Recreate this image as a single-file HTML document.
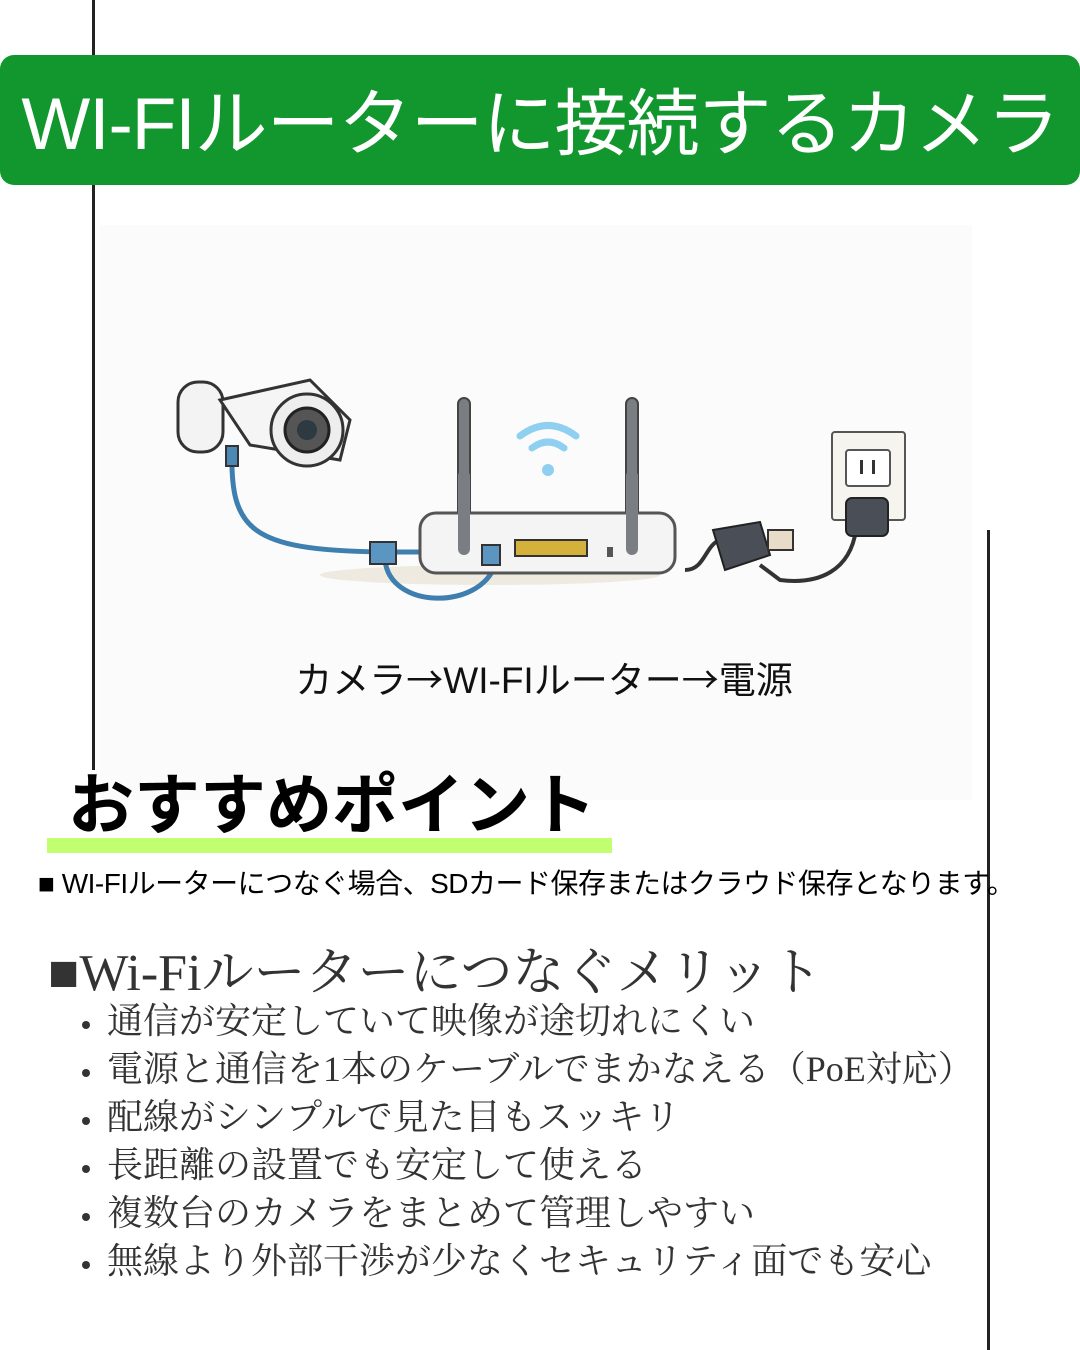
<!DOCTYPE html>
<html><head><meta charset="utf-8"><style>
body{margin:0;width:1080px;height:1350px;background:#fff;position:relative;overflow:hidden;font-family:"Liberation Sans","Noto Sans CJK JP",sans-serif}
.abs{position:absolute}
.banner{left:0;top:55px;width:1080px;height:130px;background:#12962e;border-radius:14px}
.title{left:0;top:60px;width:1080px;height:130px;line-height:130px;text-align:center;color:#fff;font-size:73px;white-space:nowrap;letter-spacing:-1px}
.serif{font-family:"Liberation Serif","Noto Serif CJK SC",serif;color:#333}
ul{margin:0;padding:0;list-style:none}
li{height:48px;line-height:48px;font-size:36px;white-space:nowrap;position:relative;letter-spacing:0px}
li::before{content:"";position:absolute;left:-25px;top:24px;width:8px;height:8px;border-radius:50%;background:#333}
</style></head><body>
<div class="abs" style="left:100px;top:225px;width:872px;height:575px;background:#fbfbfb"></div>
<div class="abs" style="left:92px;top:0;width:3px;height:770px;background:#222"></div>
<div class="abs" style="left:987px;top:530px;width:3px;height:820px;background:#222"></div>
<div class="abs banner"></div>
<div class="abs title">WI-FIルーターに接続するカメラ</div>

<svg class="abs" style="left:160px;top:370px" width="760" height="250" viewBox="0 0 760 250">
 <ellipse cx="330" cy="205" rx="170" ry="10" fill="#eeeae0"/>
 <path d="M72 80 C70 160 90 180 220 182 L260 182" stroke="#3e7fb0" stroke-width="5" fill="none"/>
 <path d="M225 190 C230 240 320 240 335 195" stroke="#3e7fb0" stroke-width="5" fill="none"/>
 <path d="M560 170 C545 175 545 200 525 200" stroke="#333" stroke-width="4" fill="none"/>
 <path d="M696 160 C690 200 660 215 620 210 L600 195" stroke="#333" stroke-width="4" fill="none"/>
 <rect x="18" y="12" width="45" height="70" rx="20" fill="#f3f3f3" stroke="#333" stroke-width="3"/>
 <path d="M60 30 L150 10 L190 50 L180 90 L90 75 Z" fill="#f5f5f5" stroke="#333" stroke-width="3"/>
 <circle cx="147" cy="60" r="36" fill="#eee" stroke="#333" stroke-width="3"/>
 <circle cx="147" cy="60" r="22" fill="#555" stroke="#222" stroke-width="3"/>
 <circle cx="147" cy="60" r="10" fill="#2d3a42"/>
 <rect x="66" y="76" width="12" height="20" fill="#4d88b5" stroke="#333" stroke-width="2"/>
 <rect x="210" y="172" width="26" height="22" fill="#5b96c2" stroke="#333" stroke-width="2"/>
 <rect x="298" y="28" width="12" height="160" rx="6" fill="#7a7d82" stroke="#444" stroke-width="2"/>
 <rect x="466" y="28" width="12" height="160" rx="6" fill="#7a7d82" stroke="#444" stroke-width="2"/>
 <rect x="260" y="143" width="255" height="60" rx="16" fill="#f4f4f4" stroke="#555" stroke-width="3"/>
 <rect x="298" y="100" width="12" height="85" rx="6" fill="#7a7d82"/>
 <rect x="466" y="100" width="12" height="85" rx="6" fill="#7a7d82"/>
 <rect x="355" y="170" width="72" height="16" fill="#d4b13a" stroke="#333" stroke-width="2"/>
 <rect x="322" y="175" width="18" height="20" fill="#5b96c2" stroke="#333" stroke-width="2"/>
 <rect x="447" y="177" width="6" height="10" fill="#555"/>
 <path d="M360 66 Q388 45 416 66" stroke="#8fd0f0" stroke-width="7" fill="none" stroke-linecap="round"/>
 <path d="M372 78 Q388 66 404 78" stroke="#8fd0f0" stroke-width="7" fill="none" stroke-linecap="round"/>
 <circle cx="388" cy="100" r="6" fill="#8fd0f0"/>
 <path d="M553 160 L600 152 L610 185 L565 200 Z" fill="#4a4f57" stroke="#222" stroke-width="2"/>
 <rect x="608" y="160" width="25" height="20" fill="#e8dcc8" stroke="#333" stroke-width="2"/>
 <rect x="672" y="62" width="73" height="88" rx="3" fill="#f5f4ef" stroke="#555" stroke-width="2"/>
 <rect x="686" y="80" width="44" height="36" rx="3" fill="#fff" stroke="#555" stroke-width="2"/>
 <rect x="700" y="90" width="3" height="14" fill="#333"/><rect x="712" y="90" width="3" height="14" fill="#333"/>
 <rect x="686" y="128" width="42" height="38" rx="6" fill="#4a4f57" stroke="#222" stroke-width="2"/>
</svg>

<div class="abs" style="left:0;width:1080px;top:650px;text-align:center;font-size:37px;color:#111;padding-left:4px;white-space:nowrap">カメラ<span style="font-family:'Noto Sans CJK JP',sans-serif">→</span>WI-FIルーター<span style="font-family:'Noto Sans CJK JP',sans-serif">→</span>電源</div>

<div class="abs" style="left:47px;top:838px;width:565px;height:15px;background:#c2ff70"></div>
<div class="abs" style="left:68px;top:752px;font-size:66px;font-weight:bold;color:#000">おすすめポイント</div>
<div class="abs" style="left:38px;top:862px;font-size:28px;color:#000;white-space:nowrap;letter-spacing:-0.5px">■ WI-FIルーターにつなぐ場合、SDカード保存またはクラウド保存となります。</div>

<div class="abs serif" style="left:48px;top:930px;font-size:52px;white-space:nowrap">■Wi-Fiルーターにつなぐメリット</div>
<ul class="abs serif" style="left:107px;top:997px">
<li>通信が安定していて映像が途切れにくい</li>
<li>電源と通信を1本のケーブルでまかなえる（PoE対応）</li>
<li>配線がシンプルで見た目もスッキリ</li>
<li>長距離の設置でも安定して使える</li>
<li>複数台のカメラをまとめて管理しやすい</li>
<li>無線より外部干渉が少なくセキュリティ面でも安心</li>
</ul>
</body></html>
